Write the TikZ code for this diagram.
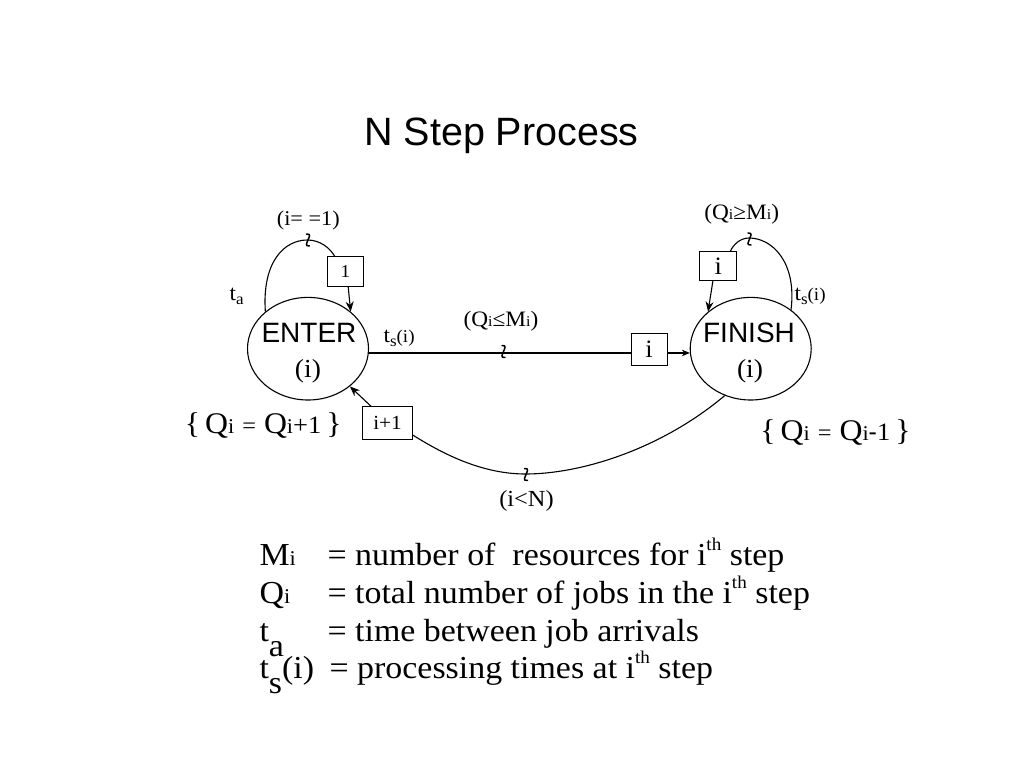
\documentclass[tikz,border=0pt]{standalone}
\usepackage{fontspec}
\setmainfont{Liberation Serif}[FakeStretch=1.06]
\newfontfamily\arial{Liberation Sans}
\usetikzlibrary{shapes.geometric,arrows.meta}
\newcommand\fsz[1]{\fontsize{#1}{#1}\selectfont}
\begin{document}
\begin{tikzpicture}[x=1pt,y=-1pt,line width=1.1pt,
  >={Stealth[length=10pt,width=8pt]},
  state/.style={ellipse,draw,minimum width=121pt,minimum height=102.6pt,inner sep=0pt},
  tagbox/.style={draw,inner sep=0pt,line width=0.9pt},
  lbl/.style={inner sep=0pt},
  squig/.pic={\draw[line width=1.5pt,line cap=round] (-1.5,-6) .. controls (0.5,-7) and (2.5,-5) .. (1,-2.5) -- (-1,2.5) .. controls (-2.5,5) and (-0.5,7) .. (1.5,6);}]
\fill[white] (0,0) rectangle (1024,768);
\useasboundingbox (0,0) rectangle (1024,768);

% title
\node[lbl,anchor=base] (title) at (501.5,145) {\arial\fsz{39.5}N Step Process};

% states
\node[state] (enter) at (308,348.7) {};
\node[state] (finish) at (750.7,348.7) {};
\node[lbl,anchor=base] (entt) at (309,342.7) {\arial\fsz{28}ENTER};
\node[lbl,anchor=base] (enti) at (308,377) {\fsz{26}(i)};
\node[lbl,anchor=base] (fint) at (749,342.7) {\arial\fsz{28}FINISH};
\node[lbl,anchor=base] (fini) at (750,377) {\fsz{26}(i)};

% boxes
\node[tagbox,minimum width=36pt,minimum height=30pt] (b1) at (345.5,271.7) {\fsz{18}1};
\node[tagbox,minimum width=36pt,minimum height=32pt] (bm) at (649,349) {\fsz{25}i};
\node[tagbox,minimum width=37pt,minimum height=29pt] (bf) at (718.3,266.2) {\fsz{25}i};
\node[tagbox,minimum width=50pt,minimum height=33pt] (bn) at (387.5,423.3) {\fsz{20}i+1};

% connectors
\draw (enter.139) .. controls (262,262) and (284,240) .. (307.5,240) .. controls (320,240) and (330,248) .. (b1.125);
\draw[->] (b1.-80) -- (enter.41);
\draw (enter.-4) -- (bm.west |- enter.-4);
\draw[->,>={Stealth[length=8pt,width=6.5pt]}] (bm.east |- enter.-4) -- (finish.184);
\draw (finish.44) .. controls (797,262) and (772,238) .. (749,238) .. controls (740,238) and (733,245) .. (bf.51);
\draw[->] (bf.-110) -- (finish.139);
\draw (finish.241) .. controls (660,450) and (580,474) .. (525.5,474) .. controls (480,474) and (440,452) .. (bn.-25);
\draw[->] (bn.134) -- (enter.-42);

% condition marks
\pic at (503.5,351.5) {squig};
\pic at (308,240) {squig};
\pic at (749.5,239) {squig};
\pic at (526,474.5) {squig};

% labels
\node[lbl,anchor=base] (lc1) at (308.3,225) {\fsz{21}(i= =1)};
\node[lbl,anchor=base] (lc2) at (501,326) {\fsz{22}(Q{\fsz{15}i}≤M{\fsz{15}i})};
\node[lbl,anchor=base] (lc3) at (741.7,219.5) {\fsz{22}(Q{\fsz{15}i}≥M{\fsz{15}i})};
\node[lbl,anchor=base] (lc4) at (526.5,506) {\fsz{23}(i<N)};
\node[lbl,anchor=base west] (ta) at (229,300) {\fsz{22}t\raisebox{-4pt}{\fsz{16}a}};
\node[lbl,anchor=base west] (ts1) at (383,342) {\fsz{22}t\raisebox{-4pt}{\fsz{16}s}{\fsz{18}(i)}};
\node[lbl,anchor=base west] (ts2) at (794,300) {\fsz{22}t\raisebox{-4pt}{\fsz{16}s}{\fsz{18}(i)}};

\node[lbl,anchor=base] (eq1) at (263.3,433.3) {\fsz{30}\{\,Q{\fsz{21}i} {\fsz{23}=} Q{\fsz{21}i}{\fsz{25}+1}\,\}};
\node[lbl,anchor=base] (eq2) at (835.5,440) {\fsz{30}\{\,Q{\fsz{21}i} {\fsz{23}=} Q{\fsz{21}i}{\fsz{25}\arial-}{\fsz{25}1}\,\}};

% legend
\node[lbl,anchor=base west] (m1) at (259,565) {\fsz{32}M{\fsz{21}i}};
\node[lbl,anchor=base west] (d1) at (327,565) {\fsz{32}= number of\ \ resources for i\raisebox{15pt}{\fsz{18}th} step};
\node[lbl,anchor=base west] (m2) at (259,603) {\fsz{32}Q{\fsz{21}i}};
\node[lbl,anchor=base west] (d2) at (327,603) {\fsz{32}= total number of jobs in the i\raisebox{15pt}{\fsz{18}th} step};
\node[lbl,anchor=base west] (m3) at (259,641) {\fsz{32}t\raisebox{-15pt}{a}};
\node[lbl,anchor=base west] (d3) at (327,641) {\fsz{32}= time between job arrivals};
\node[lbl,anchor=base west] (m4) at (259,678) {\fsz{32}t\raisebox{-15pt}{s}(i)};
\node[lbl,anchor=base west] (d4) at (329,678) {\fsz{32}= processing times at i\raisebox{15pt}{\fsz{18}th} step};
\end{tikzpicture}
\end{document}
